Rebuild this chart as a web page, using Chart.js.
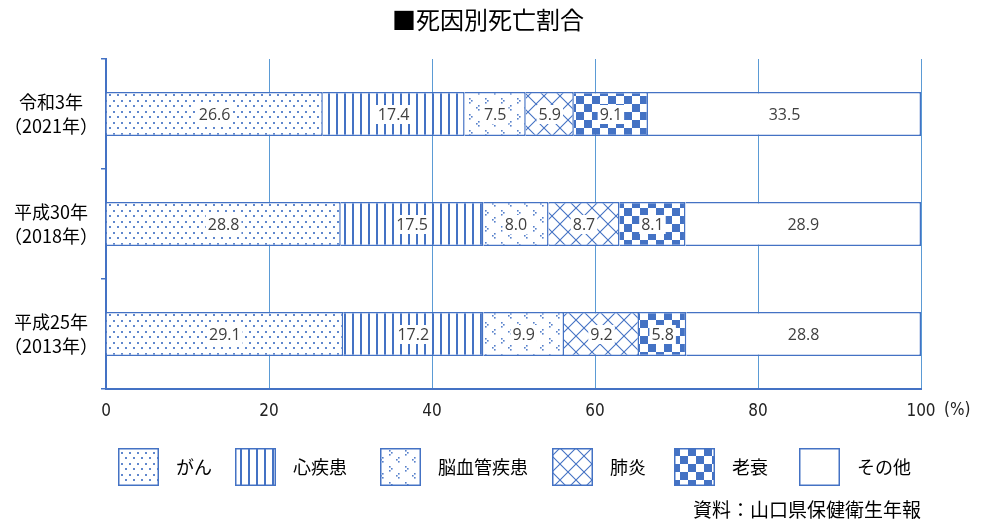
<!DOCTYPE html>
<html lang="ja">
<head>
<meta charset="utf-8">
<script src="https://cdn.jsdelivr.net/npm/chart.js@4"></script>
<style>
html,body{margin:0;padding:0;background:#fff;}
#wrap{width:984px;height:524px;position:relative;}
</style>
</head>
<body>
<div id="wrap"><canvas id="c" width="984" height="524"></canvas></div>
<script>
// 死因別死亡割合（%）
const chartTitle = '■死因別死亡割合';
const eraLabels = ['令和3年', '平成30年', '平成25年'];
const yearLabels = ['（2021年）', '（2018年）', '（2013年）'];
const seriesNames = ['がん', '心疾患', '脳血管疾患', '肺炎', '老衰', 'その他'];
const cancer = [26.6, 28.8, 29.1];
const heart = [17.4, 17.5, 17.2];
const cerebro = [7.5, 8.0, 9.9];
const pneumonia = [5.9, 8.7, 9.2];
const senility = [9.1, 8.1, 5.8];
const others = [33.5, 28.9, 28.8];
const xTicks = [0, 20, 40, 60, 80, 100];
const sourceNote = '資料：山口県保健衛生年報';
const unitNote = '(%)';

const BLUE = '#4472C4';
const CJK = "'Noto Sans CJK JP', sans-serif";
const NARROW = "'Liberation Sans Narrow', 'DejaVu Sans Condensed', sans-serif";
const VALUE_FONT = "16px 'Open Sans', sans-serif";

// Hatch fills
function makePattern(w, h, draw) {
  const c = document.createElement('canvas');
  c.width = w; c.height = h;
  const g = c.getContext('2d');
  g.fillStyle = '#fff';
  g.fillRect(0, 0, w, h);
  draw(g, w, h);
  return g.createPattern(c, 'repeat');
}
const dotFill = makePattern(8, 11, g => {
  g.fillStyle = 'rgba(68,114,196,0.85)';
  g.fillRect(1, 1, 2, 2);
  g.fillRect(5, 6, 2, 2);
});
const lineFill = makePattern(8, 4, (g, w, h) => {
  g.fillStyle = BLUE;
  g.fillRect(0, 0, 2, h);
});
const divotFill = makePattern(16, 16, g => {
  g.fillStyle = 'rgba(68,114,196,0.9)';
  // ">"
  g.fillRect(5, 2, 1.6, 1.6); g.fillRect(7, 4, 1.6, 1.6); g.fillRect(5, 6, 1.6, 1.6);
  // "<"
  g.fillRect(14, 9, 1.6, 1.6); g.fillRect(12, 11, 1.6, 1.6); g.fillRect(14, 13, 1.6, 1.6);
});
const diamondFill = makePattern(16, 16, g => {
  g.strokeStyle = BLUE;
  g.lineWidth = 1.1;
  g.beginPath();
  g.moveTo(-2, -2); g.lineTo(18, 18);
  g.moveTo(18, -2); g.lineTo(-2, 18);
  g.stroke();
});
const checkerFill = makePattern(16, 16, g => {
  g.fillStyle = BLUE;
  g.fillRect(0, 0, 8, 8);
  g.fillRect(8, 8, 8, 8);
});
const fills = [dotFill, lineFill, divotFill, diamondFill, checkerFill, '#ffffff'];
const seriesValues = [cancer, heart, cerebro, pneumonia, senility, others];

// Value labels on a white box centred in each segment
const valueLabels = {
  id: 'valueLabels',
  afterDatasetsDraw(chart) {
    const ctx = chart.ctx;
    ctx.save();
    ctx.font = VALUE_FONT;
    ctx.textAlign = 'center';
    ctx.textBaseline = 'middle';
    chart.data.datasets.forEach((ds, i) => {
      const meta = chart.getDatasetMeta(i);
      meta.data.forEach((el, j) => {
        const t = ds.data[j].toFixed(1);
        const cx = (el.x + el.base) / 2;
        const cy = el.y;
        const w = ctx.measureText(t).width;
        ctx.fillStyle = '#fff';
        ctx.fillRect(cx - w / 2 - 2, cy - 9, w + 4, 19);
        ctx.fillStyle = '#404040';
        ctx.fillText(t, cx, cy + 1);
      });
    });
    ctx.restore();
  }
};

// Title, legend row, unit mark and source note
const extras = {
  id: 'extras',
  afterDraw(chart) {
    const ctx = chart.ctx;
    const boxX = [118, 235, 380, 552, 674, 799];
    ctx.save();
    ctx.textBaseline = 'middle';
    ctx.textAlign = 'center';
    ctx.fillStyle = '#000';
    ctx.font = '24px ' + CJK;
    ctx.fillText(chartTitle, 488, 20);

    ctx.font = '18px ' + CJK;
    ctx.textAlign = 'left';
    chart.data.datasets.forEach((ds, i) => {
      const x = boxX[i];
      ctx.fillStyle = ds.backgroundColor;
      ctx.fillRect(x, 448, 41, 38);
      ctx.strokeStyle = BLUE;
      ctx.lineWidth = 1.5;
      ctx.strokeRect(x + 0.75, 448.75, 39.5, 36.5);
      ctx.fillStyle = '#000';
      ctx.fillText(ds.label, x + 58, 467);
    });
    ctx.font = '19px ' + CJK;
    ctx.fillText(sourceNote, 693, 510);
    const xs = chart.scales.x;
    ctx.font = '17px ' + NARROW;
    ctx.fillStyle = '#222';
    ctx.fillText(unitNote, xs.getPixelForValue(100) + 23, 411);
    ctx.restore();
  }
};

new Chart(document.getElementById('c'), {
  type: 'bar',
  data: {
    labels: eraLabels.map((e, i) => [e, yearLabels[i]]),
    datasets: seriesNames.map((name, i) => ({
      label: name,
      data: seriesValues[i],
      backgroundColor: fills[i],
      borderColor: BLUE,
      borderWidth: 1.5,
      barPercentage: 0.4,
      categoryPercentage: 1.0
    }))
  },
  options: {
    responsive: false,
    animation: false,
    devicePixelRatio: 1,
    indexAxis: 'y',
    layout: { padding: { left: 0, right: 63, top: 59, bottom: 0 } },
    plugins: {
      legend: { display: false },
      tooltip: { enabled: false },
      title: { display: false }
    },
    scales: {
      x: {
        stacked: true,
        min: 0,
        max: 100,
        afterBuildTicks: s => { s.ticks = xTicks.map(v => ({ value: v })); },
        afterFit: s => { s.height = 135; },
        grid: { color: '#5B9BD5', lineWidth: 1, drawTicks: false },
        border: { color: BLUE, width: 2 },
        ticks: { padding: 12, color: '#222', font: { family: NARROW, size: 17 } }
      },
      y: {
        stacked: true,
        afterFit: s => { s.width = 106; },
        grid: { drawOnChartArea: false, color: BLUE, lineWidth: 1.5, tickLength: 5 },
        border: { color: BLUE, width: 2 },
        ticks: { crossAlign: 'center', padding: 3, color: '#000', font: { family: CJK, size: 18, lineHeight: 1.3 } }
      }
    }
  },
  plugins: [valueLabels, extras]
});
</script>
</body>
</html>
